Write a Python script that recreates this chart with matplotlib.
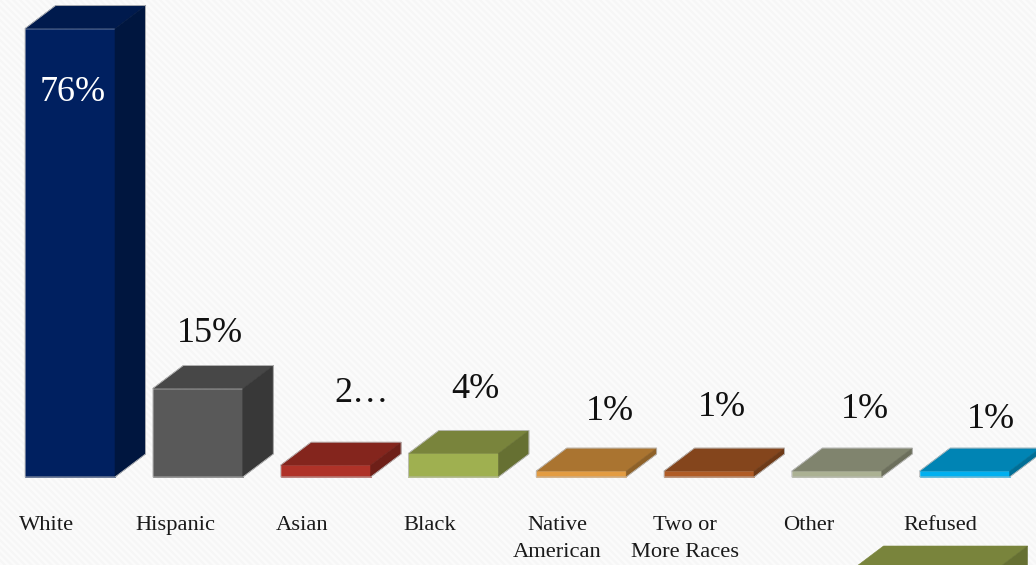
import matplotlib
matplotlib.use("Agg")
import matplotlib.pyplot as plt
from matplotlib.patches import Polygon, Rectangle

# ---- data ----
categories = ["White", "Hispanic", "Asian", "Black", "Native\nAmerican",
              "Two or\nMore Races", "Other", "Refused"]
values = [76, 15, 2, 4, 1, 1, 1, 1]
value_labels = ["76%", "15%", "2…", "4%", "1%", "1%", "1%", "1%"]
front_colors = ["#002060", "#595959", "#AF3228", "#9FB050", "#E39C42", "#B05C26", "#ABB193", "#00B0F0"]
top_colors = ["#001A4D", "#474747", "#84251D", "#79843C", "#AA7430", "#84451C", "#80846E", "#0084B4"]
side_colors = ["#00163F", "#383838", "#6E1F18", "#667032", "#8E6128", "#6E3A17", "#6C6F5C", "#006E96"]
extra_bar_color = ["#79843C", "#667032"]

# ---- layout (pixels of the 1036x565 canvas) ----
W, H = 1036, 565
PX_LEFT0, PX_STEP, PX_BASE, PX_PER_PCT = 25.0, 127.8, 477.0, 5.9
BAR_W = 90 / PX_STEP
DX = 30.5 / PX_STEP
DY = 23 / PX_PER_PCT
label_px = [(73, 89), (210, 329), (362, 389), (475, 385),
            (610, 407), (722, 403), (865, 405), (991, 415)]
cat_px = [47, 175, 302, 430, 557, 685, 809, 940]
CAT_BASE = 530
CAT_LINE = 27

plt.rcParams["font.family"] = ["Liberation Serif", "DejaVu Serif"]
plt.rcParams["hatch.linewidth"] = 1.6

fig = plt.figure(figsize=(W / 100, H / 100), dpi=100)
ax = fig.add_axes([0, 0, 1, 1])
ax.set_xlim(-PX_LEFT0 / PX_STEP, (W - PX_LEFT0) / PX_STEP)
ax.set_ylim(-(H - PX_BASE) / PX_PER_PCT, PX_BASE / PX_PER_PCT)
ax.axis("off")


def px_x(x):
    return (x - PX_LEFT0) / PX_STEP


def px_y(y):
    return (PX_BASE - y) / PX_PER_PCT


ax.add_patch(Rectangle((0, 0), 1, 1, transform=ax.transAxes, facecolor="#FBFBFB",
                       edgecolor="#F6F6F6", hatch="\\\\\\\\\\", linewidth=0, zorder=0))


def face(points, color, z):
    ax.add_patch(Polygon(points, facecolor=color, edgecolor=color, linewidth=0.4, zorder=z))


def box(left, base, value, width, front, top, side, z):
    r = left + width
    t = base + value
    face([(left, base), (r, base), (r, t), (left, t)], front, z)
    face([(left, t), (r, t), (r + DX, t + DY), (left + DX, t + DY)], top, z)
    face([(r, base), (r + DX, base + DY), (r + DX, t + DY), (r, t)], side, z)
    outline = [(left, base), (r, base), (r + DX, base + DY), (r + DX, t + DY),
               (left + DX, t + DY), (left, t)]
    ax.add_patch(Polygon(outline, fill=False, edgecolor="#BDBDBD", linewidth=0.6, zorder=z + 0.005))


for i, v in enumerate(values):
    box(i, 0, v, BAR_W, front_colors[i], top_colors[i], side_colors[i], 2 + i * 0.01)
    lx, ly = label_px[i]
    ax.text(px_x(lx), px_y(ly), value_labels[i], ha="center", va="center_baseline", fontsize=26,
            color="white" if i == 0 else "#111111", zorder=5)
    for k, line in enumerate(categories[i].split("\n")):
        ax.text(px_x(cat_px[i]), px_y(CAT_BASE + k * CAT_LINE), line, ha="center", va="baseline",
                fontsize=16.2, color="#1A1A1A", zorder=5)

# olive bar cut off by the lower edge of the slide
ex_left = px_x(853)
ex_top = px_y(569)
ex_w = 144 / PX_STEP
face([(ex_left, ex_top), (ex_left + ex_w, ex_top), (ex_left + ex_w + DX, ex_top + DY),
      (ex_left + DX, ex_top + DY)], extra_bar_color[0], 3)
face([(ex_left + ex_w, ex_top), (ex_left + ex_w + DX, ex_top + DY),
      (ex_left + ex_w + DX, ex_top)], extra_bar_color[1], 3)

fig.savefig("out.png", dpi=100)
